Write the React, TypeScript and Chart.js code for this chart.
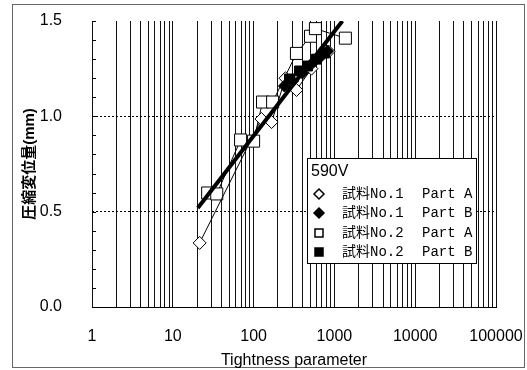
import React, { useEffect, useRef } from "react";
import { Chart, registerables } from "chart.js";

Chart.register(...registerables);

// ---- text ----
const LEGEND_TITLE = "590V";
const SERIES_LABELS = ["試料No.1  Part A", "試料No.1  Part B", "試料No.2  Part A", "試料No.2  Part B"];
const X_TITLE = "Tightness parameter";
const Y_TITLE = "圧縮変位量(mm)";

// ---- tick labels ----
const X_MAJOR = [1, 10, 100, 1000, 10000, 100000];
const Y_MAJOR = [0, 0.5, 1.0, 1.5];

// ---- data ----
const no1A_x = [21.5, 125, 167, 248, 339, 520, 846];
const no1A_y = [0.336, 0.986, 0.97, 1.2, 1.138, 1.25, 1.34];

const no1B_x = [241, 303, 403, 520, 653, 820];
const no1B_y = [1.159, 1.185, 1.227, 1.274, 1.306, 1.342];

const no2A_x = [27, 35, 69, 100, 129, 172, 339, 506, 582, 1368];
const no2A_y = [0.598, 0.593, 0.876, 0.87, 1.075, 1.075, 1.33, 1.42, 1.46, 1.41];

const no2B_x = [278, 370, 464, 600, 753];
const no2B_y = [1.196, 1.238, 1.264, 1.3, 1.332];

const fit_x = [20.4, 1256];
const fit_y = [0.519, 1.5];

const toPts = (xs: number[], ys: number[]) => xs.map((x, i) => ({ x, y: ys[i] }));

const FONT = "'Liberation Sans', 'Noto Sans CJK JP', sans-serif";

const frameLegendPlugin = {
  id: "frameLegend",
  beforeDraw(chart: any) {
    const ctx = chart.ctx;
    ctx.save();
    ctx.fillStyle = "#fff";
    ctx.fillRect(0, 0, chart.width, chart.height);
    ctx.strokeStyle = "#666";
    ctx.lineWidth = 1;
    ctx.strokeRect(12.5, 4.5, 512, 363);
    ctx.restore();
  },
  afterDatasetsDraw(chart: any) {
    const ctx = chart.ctx;
    const ca = chart.chartArea;
    const y = chart.scales.y;
    ctx.save();
    // inward minor tick marks on the left axis
    ctx.strokeStyle = "#000";
    ctx.lineWidth = 1;
    for (const t of y.ticks) {
      const py = Math.round(y.getPixelForValue(t.value)) + 0.5;
      ctx.beginPath();
      ctx.moveTo(ca.left, py);
      ctx.lineTo(ca.left + 4, py);
      ctx.stroke();
    }
    // legend box
    const bx = 307.5, by = 158.5, bw = 169, bh = 105;
    ctx.fillStyle = "#fff";
    ctx.fillRect(bx, by, bw, bh);
    ctx.strokeStyle = "#000";
    ctx.strokeRect(bx, by, bw, bh);
    ctx.fillStyle = "#000";
    ctx.textBaseline = "middle";
    ctx.textAlign = "left";
    ctx.font = `16px ${FONT}`;
    ctx.fillText(LEGEND_TITLE, 311, 172);
    const rows = [194, 213, 233, 252];
    ctx.font = "14px 'Liberation Mono', 'Noto Sans CJK JP', monospace";
    SERIES_LABELS.forEach((lab, i) => {
      const ry = rows[i];
      const parts = lab.split(/\s{2,}/);
      ctx.fillStyle = "#000";
      ctx.fillText(parts[0], 342, ry);
      if (parts[1]) ctx.fillText(parts[1], 422, ry);
      const mx = 319;
      ctx.lineWidth = 1.5;
      ctx.strokeStyle = "#000";
      ctx.beginPath();
      if (i === 0 || i === 1) {
        const r = 5;
        ctx.moveTo(mx, ry - r);
        ctx.lineTo(mx + r, ry);
        ctx.lineTo(mx, ry + r);
        ctx.lineTo(mx - r, ry);
        ctx.closePath();
      } else {
        ctx.rect(mx - 4, ry - 4, 8, 8);
      }
      ctx.fillStyle = i === 1 || i === 3 ? "#000" : "#fff";
      ctx.fill();
      ctx.stroke();
    });
    ctx.restore();
  },
};

export default function App() {
  const ref = useRef<HTMLCanvasElement | null>(null);

  useEffect(() => {
    if (!ref.current) return;
    const xTicks: { value: number }[] = [];
    for (let k = 0; k < 5; k++) {
      for (let m = 1; m <= 9; m++) xTicks.push({ value: m * Math.pow(10, k) });
    }
    xTicks.push({ value: 100000 });
    const yTicks: { value: number }[] = [];
    for (let i = 0; i <= 15; i++) yTicks.push({ value: i / 10 });

    const chart = new Chart(ref.current, {
      type: "scatter",
      data: {
        datasets: [
          {
            label: "fit",
            data: toPts(fit_x, fit_y),
            showLine: true,
            borderColor: "#000",
            borderWidth: 4,
            pointRadius: 0,
            order: 0,
          },
          {
            label: SERIES_LABELS[1],
            data: toPts(no1B_x, no1B_y),
            pointStyle: "rectRot",
            pointRadius: 6,
            backgroundColor: "#000",
            borderColor: "#000",
            borderWidth: 1,
            showLine: false,
            order: 1,
          },
          {
            label: SERIES_LABELS[3],
            data: toPts(no2B_x, no2B_y),
            pointStyle: "rect",
            pointRadius: 7,
            backgroundColor: "#000",
            borderColor: "#000",
            borderWidth: 1,
            showLine: false,
            order: 2,
          },
          {
            label: SERIES_LABELS[0],
            data: toPts(no1A_x, no1A_y),
            pointStyle: "rectRot",
            pointRadius: 6.5,
            backgroundColor: "#fff",
            borderColor: "#000",
            borderWidth: 1,
            showLine: true,
            order: 3,
          },
          {
            label: SERIES_LABELS[2],
            data: toPts(no2A_x, no2A_y),
            pointStyle: "rect",
            pointRadius: 8.5,
            backgroundColor: "#fff",
            borderColor: "#000",
            borderWidth: 1,
            showLine: true,
            order: 4,
          },
        ],
      },
      options: {
        animation: false,
        responsive: false,
        maintainAspectRatio: false,
        layout: { padding: { left: 0, top: 21, right: 31, bottom: 0 } },
        plugins: { legend: { display: false }, tooltip: { enabled: false } },
        scales: {
          x: {
            type: "logarithmic",
            min: 1,
            max: 100000,
            afterBuildTicks: (s: any) => {
              s.ticks = xTicks.map((t) => ({ ...t }));
            },
            afterFit: (s: any) => {
              s.height = 63;
              s.paddingLeft = 0;
              s.paddingRight = 0;
            },
            ticks: {
              autoSkip: false,
              maxRotation: 0,
              padding: 20,
              color: "#000",
              font: { family: FONT, size: 16 },
              callback: (v: any) => (X_MAJOR.includes(Number(v)) ? String(v) : ""),
            },
            grid: { color: "#111", lineWidth: 1, drawTicks: false },
            border: { display: true, color: "#000", width: 1 },
            title: {
              display: true,
              text: X_TITLE,
              color: "#000",
              font: { family: FONT, size: 16 },
              padding: { top: 0, bottom: 0 },
            },
          },
          y: {
            type: "linear",
            min: 0,
            max: 1.5,
            afterBuildTicks: (s: any) => {
              s.ticks = yTicks.map((t) => ({ ...t }));
            },
            afterFit: (s: any) => {
              s.width = 92;
              s.paddingTop = 0;
              s.paddingBottom = 0;
            },
            ticks: {
              autoSkip: false,
              padding: 30,
              color: "#000",
              font: { family: FONT, size: 16 },
              callback: (v: any) => {
                const n = Number(v);
                return Y_MAJOR.some((m) => Math.abs(m - n) < 1e-6) ? n.toFixed(1) : "";
              },
            },
            grid: {
              drawTicks: false,
              lineWidth: 1,
              color: (c: any) => {
                const n = c.tick ? c.tick.value : -1;
                return Math.abs(n - 0.5) < 1e-6 || Math.abs(n - 1.0) < 1e-6 ? "#000" : "rgba(0,0,0,0)";
              },
            },
            border: { display: false, dash: [2, 2] },
            title: {
              display: true,
              text: Y_TITLE,
              color: "#000",
              font: { family: FONT, size: 15, weight: "bold" },
              padding: { top: 21, bottom: 0 },
            },
          },
        },
      },
      plugins: [frameLegendPlugin],
    } as any);
    return () => chart.destroy();
  }, []);

  return (
    <div style={{ position: "absolute", left: 0, top: 0, width: 527, height: 370 }}>
      <canvas ref={ref} width={527} height={370} style={{ display: "block" }} />
    </div>
  );
}
